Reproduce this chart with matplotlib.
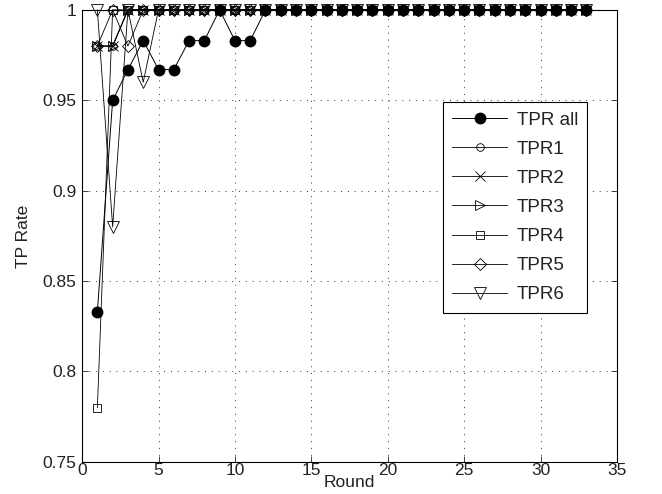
import matplotlib.pyplot as plt

plt.rcParams['font.family'] = ['Liberation Sans', 'DejaVu Sans']

rounds = list(range(1, 34))

tpr_all = [0.833, 0.95, 0.967, 0.983, 0.967, 0.967, 0.983, 0.983, 1, 0.983, 0.983,
           1, 1, 1, 1, 1, 1, 1, 1, 1, 1, 1, 1, 1, 1, 1, 1, 1, 1, 1, 1, 1, 1]
tpr1 = [0.98, 0.98, 1, 1, 1, 1, 1, 1, 1, 1, 1, 1, 1, 1, 1, 1, 1, 1, 1, 1, 1, 1,
        1, 1, 1, 1, 1, 1, 1, 1, 1, 1, 1]
tpr2 = [0.98, 0.98, 1, 1, 1, 1, 1, 1, 1, 1, 1, 1, 1, 1, 1, 1, 1, 1, 1, 1, 1, 1,
        1, 1, 1, 1, 1, 1, 1, 1, 1, 1, 1]
tpr3 = [0.98, 0.98, 1, 1, 1, 1, 1, 1, 1, 1, 1, 1, 1, 1, 1, 1, 1, 1, 1, 1, 1, 1,
        1, 1, 1, 1, 1, 1, 1, 1, 1, 1, 1]
tpr4 = [0.78, 1, 1, 1, 1, 1, 1, 1, 1, 1, 1, 1, 1, 1, 1, 1, 1, 1, 1, 1, 1, 1,
        1, 1, 1, 1, 1, 1, 1, 1, 1, 1, 1]
tpr5 = [0.98, 1, 0.98, 1, 1, 1, 1, 1, 1, 1, 1, 1, 1, 1, 1, 1, 1, 1, 1, 1, 1, 1,
        1, 1, 1, 1, 1, 1, 1, 1, 1, 1, 1]
tpr6 = [1, 0.88, 1, 0.96, 1, 1, 1, 1, 1, 1, 1, 1, 1, 1, 1, 1, 1, 1, 1, 1, 1, 1,
        1, 1, 1, 1, 1, 1, 1, 1, 1, 1, 1]

fig = plt.figure(figsize=(6.62, 4.94), dpi=100)
ax = fig.add_axes([0.124, 0.065, 0.808, 0.915])

ax.plot(rounds, tpr_all, '-o', color='k', mfc='k', ms=7.5, lw=0.7,
        label='TPR all', clip_on=False, zorder=3)

# open markers for the per-class curves: (values, marker, size, label)
series = [(tpr1, 'o', 5.5, 'TPR1'), (tpr2, 'x', 6.5, 'TPR2'),
          (tpr3, '>', 7, 'TPR3'), (tpr4, 's', 6, 'TPR4'),
          (tpr5, 'D', 6, 'TPR5'), (tpr6, 'v', 8, 'TPR6')]
for vals, m, ms, lab in series:
    ax.plot(rounds, vals, '-', marker=m, color='k', mfc='none', ms=ms, mew=0.6,
            lw=0.6, label=lab, clip_on=False, zorder=3)

ax.set_xlim(0, 35)
ax.set_ylim(0.75, 1)
ax.set_xticks([0, 5, 10, 15, 20, 25, 30, 35])
ax.set_yticks([0.75, 0.8, 0.85, 0.9, 0.95, 1])
ax.set_yticklabels(['0.75', '0.8', '0.85', '0.9', '0.95', '1'])
ax.tick_params(axis='both', direction='in', top=True, right=True, labelsize=12.5,
               length=4, width=0.6, colors='#222222')
ax.tick_params(axis='y', pad=4)
ax.tick_params(axis='x', pad=0.5)
ax.grid(True, color='#333333', linestyle=(0, (1, 6)), linewidth=0.7)
for s in ax.spines.values():
    s.set_linewidth(0.8)

ax.set_xlabel('Round', fontsize=12.5, labelpad=-2, color='#222222')
ax.set_ylabel('TP Rate', fontsize=12.5, labelpad=8, color='#222222')

leg = ax.legend(loc='upper left', bbox_to_anchor=(0.674, 0.796), fancybox=False,
                edgecolor='k', framealpha=1, fontsize=13.5, handlelength=2.95,
                handletextpad=0.5, labelspacing=0.64, borderpad=0.5,
                borderaxespad=0)
leg.get_frame().set_linewidth(0.8)
for t in leg.get_texts():
    t.set_color('#222222')

fig.savefig('out.png', dpi=100)
